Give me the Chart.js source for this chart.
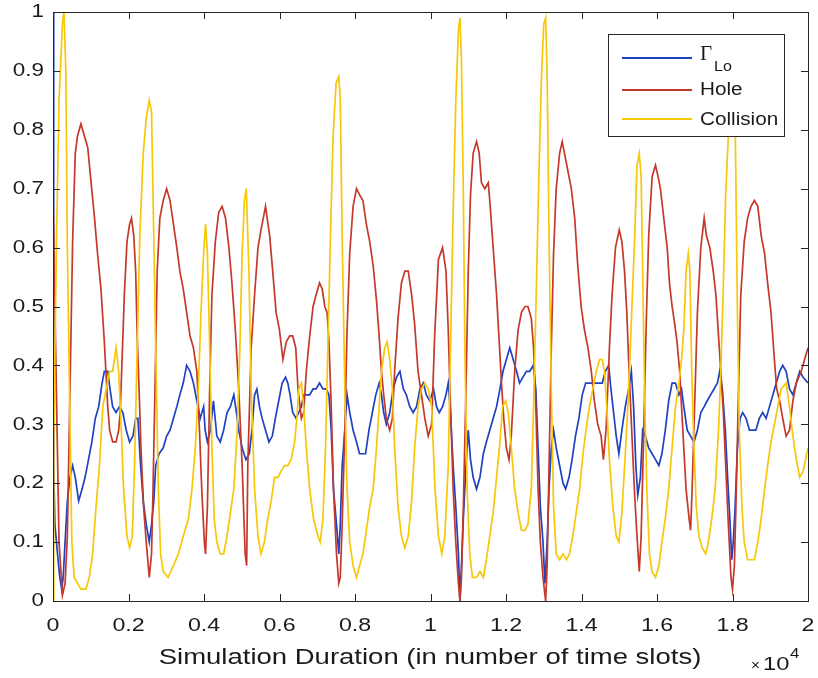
<!DOCTYPE html>
<html>
<head>
<meta charset="utf-8">
<script src="https://cdn.jsdelivr.net/npm/chart.js@4.4.0/dist/chart.umd.min.js"></script>
<style>
  html, body { margin: 0; padding: 0; background: #fff; }
</style>
</head>
<body>
<canvas id="chart" width="818" height="678"></canvas>
<script>
// tick labels
const xTickLabels = ['0', '0.2', '0.4', '0.6', '0.8', '1', '1.2', '1.4', '1.6', '1.8', '2'];
const yTickLabels = ['0', '0.1', '0.2', '0.3', '0.4', '0.5', '0.6', '0.7', '0.8', '0.9', '1'];
const seriesNames = ['Lo', 'Hole', 'Collision'];

// Γ_Lo (blue) : time slot / value
const loT = [0, 18, 50, 120, 180, 230, 270, 320, 380, 450,
  520, 590, 680, 770, 850, 940, 1030, 1120, 1210, 1300,
  1360, 1450, 1510, 1580, 1670, 1760, 1850, 1940, 2030, 2120,
  2190, 2250, 2310, 2390, 2470, 2550, 2610, 2670, 2720, 2810,
  2920, 3010, 3100, 3190, 3280, 3360, 3450, 3540, 3630, 3720,
  3810, 3900, 3990, 4030, 4090, 4170, 4250, 4340, 4430, 4520,
  4610, 4700, 4790, 4860, 4920, 5010, 5110, 5200, 5270, 5340,
  5400, 5470, 5540, 5630, 5720, 5810, 5890, 5980, 6070, 6160,
  6220, 6280, 6350, 6440, 6510, 6580, 6640, 6710, 6800, 6890,
  6970, 7060, 7150, 7240, 7310, 7370, 7430, 7510, 7570, 7610,
  7660, 7730, 7790, 7860, 7950, 8040, 8120, 8210, 8280, 8370,
  8460, 8550, 8640, 8700, 8760, 8830, 8920, 9010, 9100, 9190,
  9280, 9360, 9450, 9540, 9630, 9720, 9810, 9890, 9980, 10080,
  10160, 10230, 10320, 10410, 10470, 10530, 10600, 10670, 10740, 10780,
  10820, 10870, 10940, 11000, 11060, 11130, 11220, 11310, 11400, 11480,
  11570, 11660, 11750, 11840, 11920, 12010, 12100, 12190, 12280, 12360,
  12450, 12540, 12630, 12720, 12790, 12850, 12910, 12980, 13030, 13090,
  13140, 13200, 13260, 13330, 13420, 13510, 13580, 13670, 13750, 13840,
  13930, 14020, 14110, 14190, 14280, 14370, 14460, 14550, 14630, 14720,
  14780, 14850, 14920, 14990, 15070, 15160, 15250, 15320, 15380, 15440,
  15490, 15560, 15620, 15690, 15780, 15870, 15960, 16050, 16130, 16220,
  16310, 16400, 16490, 16580, 16650, 16710, 16800, 16890, 16980, 17070,
  17160, 17250, 17330, 17420, 17510, 17600, 17660, 17730, 17810, 17870,
  17930, 17980, 18020, 18070, 18130, 18200, 18270, 18360, 18450, 18530,
  18620, 18710, 18800, 18890, 18980, 19070, 19160, 19250, 19330, 19420,
  19510, 19600, 19690, 19780, 19870, 20000];
const loV = [1.00, 0.23, 0.13, 0.08, 0.04, 0.02, 0.04, 0.10, 0.17, 0.21,
  0.23, 0.21, 0.17, 0.19, 0.21, 0.24, 0.27, 0.31, 0.33, 0.37,
  0.39, 0.39, 0.36, 0.33, 0.32, 0.33, 0.32, 0.29, 0.27, 0.28,
  0.31, 0.31, 0.24, 0.17, 0.13, 0.10, 0.13, 0.17, 0.23, 0.25,
  0.26, 0.28, 0.29, 0.31, 0.33, 0.35, 0.37, 0.40, 0.39, 0.37,
  0.34, 0.31, 0.33, 0.29, 0.27, 0.29, 0.34, 0.28, 0.27, 0.29,
  0.32, 0.33, 0.35, 0.32, 0.29, 0.26, 0.24, 0.25, 0.29, 0.35,
  0.36, 0.33, 0.31, 0.29, 0.27, 0.28, 0.31, 0.34, 0.37, 0.38,
  0.37, 0.35, 0.32, 0.31, 0.32, 0.33, 0.35, 0.35, 0.35, 0.36,
  0.36, 0.37, 0.36, 0.36, 0.35, 0.29, 0.19, 0.13, 0.08, 0.13,
  0.23, 0.29, 0.35, 0.32, 0.29, 0.27, 0.25, 0.25, 0.25, 0.29,
  0.32, 0.35, 0.37, 0.35, 0.32, 0.30, 0.32, 0.36, 0.38, 0.39,
  0.36, 0.35, 0.33, 0.32, 0.33, 0.36, 0.37, 0.35, 0.34, 0.36,
  0.33, 0.32, 0.33, 0.35, 0.37, 0.32, 0.23, 0.16, 0.08, 0.00,
  0.06, 0.14, 0.23, 0.29, 0.24, 0.21, 0.19, 0.21, 0.25, 0.27,
  0.29, 0.31, 0.33, 0.36, 0.39, 0.41, 0.43, 0.41, 0.39, 0.37,
  0.38, 0.39, 0.39, 0.40, 0.36, 0.26, 0.16, 0.10, 0.03, 0.10,
  0.19, 0.26, 0.29, 0.26, 0.23, 0.20, 0.19, 0.21, 0.24, 0.28,
  0.31, 0.35, 0.37, 0.37, 0.37, 0.37, 0.37, 0.37, 0.39, 0.40,
  0.36, 0.32, 0.28, 0.25, 0.29, 0.33, 0.36, 0.39, 0.33, 0.23,
  0.18, 0.21, 0.29, 0.28, 0.26, 0.25, 0.24, 0.23, 0.25, 0.29,
  0.34, 0.37, 0.37, 0.35, 0.36, 0.33, 0.29, 0.28, 0.27, 0.29,
  0.32, 0.33, 0.34, 0.35, 0.36, 0.37, 0.39, 0.36, 0.29, 0.21,
  0.14, 0.07, 0.10, 0.16, 0.26, 0.31, 0.32, 0.31, 0.29, 0.29,
  0.29, 0.31, 0.32, 0.31, 0.33, 0.35, 0.37, 0.39, 0.40, 0.39,
  0.36, 0.35, 0.37, 0.39, 0.38, 0.37];

// Hole (red)
const holeT = [0, 70, 160, 250, 320, 380, 450, 520, 590, 650,
  740, 830, 920, 1010, 1100, 1180, 1270, 1320, 1360, 1410,
  1450, 1500, 1580, 1670, 1740, 1780, 1830, 1890, 1960, 2030,
  2080, 2140, 2190, 2230, 2280, 2330, 2400, 2470, 2550, 2610,
  2650, 2710, 2760, 2830, 2920, 3010, 3100, 3190, 3280, 3360,
  3450, 3540, 3630, 3720, 3810, 3880, 3940, 4010, 4040, 4090,
  4150, 4210, 4300, 4390, 4480, 4570, 4660, 4740, 4830, 4920,
  5010, 5090, 5130, 5160, 5250, 5340, 5430, 5510, 5630, 5740,
  5820, 5910, 6000, 6090, 6180, 6270, 6350, 6430, 6490, 6580,
  6640, 6710, 6800, 6890, 6970, 7060, 7130, 7200, 7260, 7310,
  7370, 7430, 7510, 7570, 7610, 7660, 7730, 7790, 7860, 7950,
  8040, 8120, 8210, 8300, 8390, 8480, 8570, 8640, 8700, 8760,
  8830, 8920, 8990, 9050, 9140, 9230, 9320, 9410, 9500, 9580,
  9670, 9760, 9850, 9940, 10030, 10110, 10210, 10320, 10410, 10470,
  10530, 10600, 10670, 10740, 10780, 10820, 10870, 10940, 11000, 11060,
  11130, 11220, 11290, 11350, 11440, 11530, 11570, 11660, 11750, 11820,
  11880, 11940, 12010, 12080, 12140, 12230, 12320, 12410, 12500, 12580,
  12670, 12730, 12790, 12850, 12910, 12980, 13050, 13090, 13140, 13200,
  13260, 13330, 13420, 13490, 13550, 13640, 13730, 13820, 13900, 13990,
  14080, 14170, 14260, 14340, 14430, 14520, 14580, 14650, 14740, 14810,
  14900, 15000, 15070, 15140, 15200, 15260, 15330, 15400, 15470, 15530,
  15580, 15650, 15710, 15780, 15870, 15960, 16030, 16090, 16180, 16270,
  16330, 16400, 16470, 16530, 16600, 16650, 16710, 16770, 16850, 16890,
  16930, 17010, 17070, 17160, 17250, 17310, 17400, 17490, 17560, 17630,
  17690, 17750, 17820, 17890, 17960, 18000, 18050, 18090, 18160, 18220,
  18310, 18400, 18490, 18580, 18670, 18760, 18850, 18930, 19020, 19110,
  19170, 19250, 19330, 19420, 19510, 19600, 19690, 19820, 19910, 20000];
const holeV = [0.69, 0.43, 0.10, 0.01, 0.03, 0.11, 0.36, 0.61, 0.76, 0.79,
  0.81, 0.79, 0.77, 0.71, 0.65, 0.59, 0.53, 0.48, 0.44, 0.38,
  0.33, 0.29, 0.27, 0.27, 0.29, 0.32, 0.41, 0.52, 0.61, 0.64,
  0.65, 0.62, 0.56, 0.45, 0.36, 0.26, 0.16, 0.10, 0.04, 0.08,
  0.19, 0.39, 0.56, 0.65, 0.68, 0.70, 0.68, 0.64, 0.60, 0.56,
  0.53, 0.49, 0.45, 0.43, 0.39, 0.29, 0.19, 0.10, 0.08, 0.16,
  0.36, 0.52, 0.61, 0.66, 0.67, 0.65, 0.60, 0.54, 0.46, 0.36,
  0.23, 0.08, 0.06, 0.23, 0.43, 0.52, 0.60, 0.63, 0.67, 0.62,
  0.56, 0.49, 0.46, 0.41, 0.44, 0.45, 0.45, 0.43, 0.36, 0.31,
  0.32, 0.39, 0.45, 0.50, 0.52, 0.54, 0.53, 0.50, 0.49, 0.44,
  0.33, 0.19, 0.08, 0.03, 0.04, 0.13, 0.29, 0.46, 0.59, 0.67,
  0.70, 0.69, 0.68, 0.64, 0.61, 0.57, 0.51, 0.45, 0.39, 0.35,
  0.31, 0.29, 0.31, 0.39, 0.48, 0.54, 0.56, 0.56, 0.52, 0.47,
  0.39, 0.35, 0.31, 0.28, 0.30, 0.45, 0.58, 0.60, 0.56, 0.46,
  0.33, 0.19, 0.10, 0.03, 0.00, 0.04, 0.16, 0.36, 0.56, 0.69,
  0.76, 0.78, 0.76, 0.71, 0.70, 0.71, 0.68, 0.60, 0.52, 0.44,
  0.37, 0.31, 0.26, 0.24, 0.28, 0.39, 0.46, 0.49, 0.50, 0.50,
  0.48, 0.43, 0.33, 0.19, 0.10, 0.04, 0.00, 0.06, 0.23, 0.43,
  0.59, 0.70, 0.76, 0.78, 0.76, 0.73, 0.70, 0.65, 0.57, 0.50,
  0.46, 0.43, 0.39, 0.34, 0.30, 0.28, 0.24, 0.29, 0.43, 0.52,
  0.60, 0.63, 0.61, 0.56, 0.49, 0.39, 0.29, 0.19, 0.11, 0.05,
  0.11, 0.29, 0.46, 0.62, 0.72, 0.74, 0.72, 0.70, 0.65, 0.60,
  0.54, 0.50, 0.47, 0.44, 0.39, 0.33, 0.26, 0.19, 0.14, 0.12,
  0.19, 0.36, 0.49, 0.60, 0.65, 0.62, 0.60, 0.56, 0.52, 0.45,
  0.39, 0.33, 0.23, 0.13, 0.04, 0.02, 0.06, 0.16, 0.36, 0.52,
  0.61, 0.65, 0.67, 0.68, 0.67, 0.62, 0.59, 0.54, 0.49, 0.41,
  0.36, 0.34, 0.31, 0.28, 0.29, 0.34, 0.37, 0.39, 0.41, 0.43];

// Collision (yellow)
const collT = [0, 20, 90, 160, 250, 290, 340, 380, 450, 500,
  560, 650, 740, 870, 960, 1050, 1140, 1230, 1320, 1410,
  1500, 1580, 1670, 1740, 1810, 1870, 1960, 2030, 2100, 2160,
  2230, 2300, 2390, 2470, 2550, 2610, 2650, 2720, 2790, 2850,
  2920, 3050, 3190, 3320, 3450, 3590, 3680, 3770, 3850, 3920,
  3990, 4040, 4090, 4150, 4210, 4270, 4340, 4430, 4520, 4610,
  4700, 4790, 4880, 4950, 5010, 5070, 5120, 5190, 5250, 5340,
  5430, 5510, 5600, 5690, 5780, 5870, 5960, 6040, 6130, 6220,
  6310, 6400, 6460, 6510, 6580, 6640, 6710, 6800, 6900, 7020,
  7080, 7150, 7220, 7280, 7350, 7420, 7500, 7570, 7610, 7660,
  7730, 7790, 7860, 7950, 8040, 8120, 8210, 8300, 8390, 8480,
  8570, 8640, 8700, 8790, 8850, 8920, 8990, 9050, 9140, 9230,
  9320, 9410, 9500, 9580, 9670, 9760, 9850, 9940, 10030, 10120,
  10210, 10300, 10380, 10470, 10530, 10600, 10670, 10740, 10780, 10820,
  10870, 10910, 10970, 11040, 11110, 11220, 11310, 11400, 11480, 11570,
  11660, 11750, 11840, 11910, 11990, 12060, 12140, 12230, 12320, 12410,
  12500, 12580, 12670, 12730, 12800, 12870, 12940, 13000, 13050, 13090,
  13140, 13200, 13260, 13330, 13420, 13510, 13600, 13680, 13770, 13860,
  13950, 14040, 14120, 14210, 14300, 14390, 14480, 14550, 14610, 14670,
  14740, 14830, 14920, 14990, 15070, 15160, 15250, 15330, 15410, 15470,
  15530, 15580, 15620, 15670, 15730, 15800, 15870, 15960, 16050, 16130,
  16220, 16310, 16400, 16490, 16580, 16650, 16710, 16770, 16830, 16870,
  16920, 16980, 17040, 17110, 17200, 17290, 17360, 17450, 17540, 17630,
  17690, 17750, 17820, 17910, 17980, 18070, 18130, 18180, 18250, 18310,
  18400, 18490, 18580, 18670, 18760, 18850, 18930, 19020, 19110, 19200,
  19290, 19420, 19510, 19600, 19690, 19780, 19870, 20000];
const collV = [0.00, 0.28, 0.60, 0.85, 0.98, 1.00, 0.90, 0.60, 0.30, 0.10,
  0.04, 0.03, 0.02, 0.02, 0.04, 0.08, 0.16, 0.23, 0.33, 0.36,
  0.39, 0.39, 0.43, 0.39, 0.29, 0.19, 0.11, 0.09, 0.11, 0.23,
  0.43, 0.62, 0.76, 0.82, 0.85, 0.83, 0.69, 0.43, 0.19, 0.08,
  0.05, 0.04, 0.06, 0.08, 0.11, 0.14, 0.19, 0.26, 0.36, 0.49,
  0.59, 0.64, 0.59, 0.43, 0.26, 0.14, 0.10, 0.08, 0.08, 0.11,
  0.15, 0.19, 0.29, 0.43, 0.59, 0.68, 0.70, 0.56, 0.36, 0.19,
  0.11, 0.08, 0.10, 0.14, 0.17, 0.21, 0.21, 0.22, 0.23, 0.23,
  0.24, 0.27, 0.31, 0.36, 0.37, 0.33, 0.26, 0.19, 0.14, 0.11,
  0.10, 0.14, 0.26, 0.43, 0.62, 0.79, 0.88, 0.89, 0.85, 0.62,
  0.36, 0.19, 0.10, 0.06, 0.04, 0.06, 0.08, 0.12, 0.16, 0.19,
  0.26, 0.33, 0.39, 0.43, 0.44, 0.41, 0.36, 0.26, 0.16, 0.11,
  0.09, 0.11, 0.17, 0.26, 0.33, 0.36, 0.37, 0.36, 0.33, 0.19,
  0.11, 0.08, 0.11, 0.23, 0.43, 0.66, 0.85, 0.97, 0.99, 0.92,
  0.69, 0.43, 0.19, 0.08, 0.04, 0.04, 0.05, 0.04, 0.07, 0.11,
  0.15, 0.21, 0.27, 0.33, 0.34, 0.32, 0.26, 0.19, 0.15, 0.12,
  0.12, 0.13, 0.19, 0.33, 0.52, 0.72, 0.89, 0.98, 0.99, 0.89,
  0.62, 0.36, 0.16, 0.08, 0.07, 0.08, 0.07, 0.08, 0.11, 0.15,
  0.19, 0.25, 0.29, 0.33, 0.36, 0.39, 0.41, 0.41, 0.39, 0.33,
  0.24, 0.16, 0.11, 0.10, 0.15, 0.25, 0.36, 0.49, 0.62, 0.74,
  0.76, 0.72, 0.56, 0.36, 0.19, 0.08, 0.05, 0.04, 0.06, 0.10,
  0.14, 0.19, 0.26, 0.33, 0.37, 0.41, 0.46, 0.56, 0.59, 0.56,
  0.39, 0.26, 0.16, 0.11, 0.09, 0.08, 0.10, 0.14, 0.19, 0.29,
  0.39, 0.52, 0.69, 0.82, 0.95, 0.82, 0.49, 0.29, 0.16, 0.10,
  0.07, 0.07, 0.07, 0.10, 0.14, 0.19, 0.23, 0.27, 0.30, 0.33,
  0.36, 0.37, 0.33, 0.28, 0.24, 0.21, 0.22, 0.26];

const BLUE = '#1f42c2';
const RED = '#c4392b';
const YELLOW = '#f7c808';
const FONT = '"Liberation Sans", Arial, sans-serif';
const SERIF = '"Liberation Serif", "Times New Roman", serif';

function pairs(ts, vs) {
  return ts.map((t, i) => ({ x: t, y: vs[i] }));
}

// draws text stretched sideways, like the scanned figure
function wideText(ctx, text, x, y, size, sx, align, family) {
  ctx.save();
  ctx.font = size + 'px ' + (family || FONT);
  ctx.textAlign = align || 'left';
  ctx.translate(x, y);
  ctx.scale(sx, 1);
  ctx.fillText(text, 0, 0);
  ctx.restore();
}

// MATLAB-like frame: box, inward ticks, tick labels, legend, x label and exponent
const matlabFrame = {
  id: 'matlabFrame',
  afterDatasetsDraw(chart) {
    const { ctx, chartArea: a, scales } = chart;
    const xs = scales.x, ys = scales.y;
    ctx.save();
    ctx.strokeStyle = '#262626';
    ctx.lineWidth = 1;
    ctx.beginPath();
    xs.ticks.forEach(t => {
      const px = Math.round(xs.getPixelForValue(t.value)) + 0.5;
      ctx.moveTo(px, a.bottom); ctx.lineTo(px, a.bottom - 7);
      ctx.moveTo(px, a.top); ctx.lineTo(px, a.top + 7);
    });
    ys.ticks.forEach(t => {
      const py = Math.round(ys.getPixelForValue(t.value)) + 0.5;
      ctx.moveTo(a.left, py); ctx.lineTo(a.left + 7, py);
      ctx.moveTo(a.right, py); ctx.lineTo(a.right - 7, py);
    });
    ctx.stroke();
    ctx.strokeRect(Math.round(a.left) + 0.5, Math.round(a.top) + 0.5,
      Math.round(a.right - a.left), Math.round(a.bottom - a.top));

    // tick labels
    ctx.fillStyle = '#1a1a1a';
    ctx.textBaseline = 'middle';
    xs.ticks.forEach((t, i) => {
      wideText(ctx, xTickLabels[i], xs.getPixelForValue(t.value), a.bottom + 25, 19, 1.22, 'center');
    });
    ys.ticks.forEach((t, i) => {
      wideText(ctx, yTickLabels[i], a.left - 9, ys.getPixelForValue(t.value), 19, 1.18, 'right');
    });

    // legend
    const lx = 608, ly = 34, lw = 176, lh = 102;
    ctx.fillStyle = '#fff';
    ctx.fillRect(lx, ly, lw, lh);
    ctx.strokeRect(lx + 0.5, ly + 0.5, lw, lh);
    const rows = [[BLUE, 58], [RED, 90], [YELLOW, 119]];
    ctx.lineWidth = 2;
    rows.forEach(([c, yy]) => {
      ctx.strokeStyle = c;
      ctx.beginPath(); ctx.moveTo(622, yy); ctx.lineTo(692, yy); ctx.stroke();
    });
    ctx.fillStyle = '#1a1a1a';
    wideText(ctx, '\u0393', 700, 55, 20, 1.05, 'left', SERIF);
    wideText(ctx, seriesNames[0], 714, 67, 14, 1.15);
    wideText(ctx, seriesNames[1], 700, 90, 18, 1.15);
    wideText(ctx, seriesNames[2], 700, 120, 18, 1.15);

    // x axis label and exponent
    wideText(ctx, 'Simulation Duration (in number of time slots)', 430, 658, 22, 1.25, 'center');
    wideText(ctx, '\u00d7', 751, 666, 14, 1.1);
    wideText(ctx, '10', 763, 665, 19, 1.25);
    wideText(ctx, '4', 790, 654, 14, 1.2);
    ctx.restore();
  }
};

const chart = new Chart(document.getElementById('chart'), {
  type: 'line',
  data: {
    datasets: [
      { label: '\u0393 Lo', data: pairs(loT, loV), borderColor: BLUE, order: 2 },
      { label: 'Hole', data: pairs(holeT, holeV), borderColor: RED, order: 1 },
      { label: 'Collision', data: pairs(collT, collV), borderColor: YELLOW, order: 0 }
    ]
  },
  options: {
    responsive: false,
    animation: false,
    layout: { padding: { top: 12, right: 10, left: 0, bottom: 0 } },
    elements: {
      point: { radius: 0 },
      line: { borderWidth: 1.7, tension: 0, fill: false }
    },
    plugins: { legend: { display: false }, tooltip: { enabled: false } },
    scales: {
      x: {
        type: 'linear', min: 0, max: 20000,
        afterFit(s) { s.height = 77; },
        grid: { display: false, drawTicks: false },
        border: { display: false },
        ticks: { stepSize: 2000, display: false }
      },
      y: {
        min: 0, max: 1,
        afterFit(s) { s.width = 53; },
        grid: { display: false, drawTicks: false },
        border: { display: false },
        ticks: { stepSize: 0.1, display: false }
      }
    }
  },
  plugins: [matlabFrame]
});
</script>
</body>
</html>
